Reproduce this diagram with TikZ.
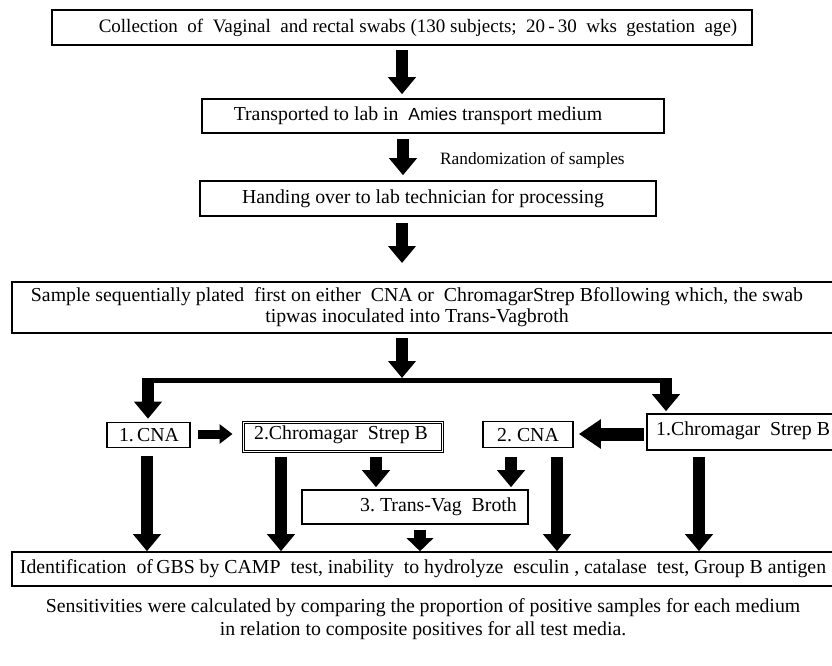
\documentclass[tikz,border=0pt]{standalone}
\usepackage{fontspec}
\setmainfont{Liberation Serif}
\usetikzlibrary{arrows.meta}
\begin{document}
\begin{tikzpicture}[x=1pt,y=-1pt,
  box/.style={draw, line width=1.6pt, inner sep=0pt},
  txt/.style={font=\fontsize{19.8}{20.5}\selectfont, inner sep=0pt, align=center},
  fat/.style={line width=12pt, -{Triangle[width=27pt,length=17pt]}},
  shortfat/.style={line width=12pt, -{Triangle[width=26pt,length=13pt]}},
  midfat/.style={line width=13pt, -{Triangle[width=28pt,length=22pt]}},
  smallfat/.style={line width=9pt, -{Triangle[width=19pt,length=13pt]}},
]
\useasboundingbox (0,0) rectangle (832,666);

% boxes and texts
\node[box, minimum width=700, minimum height=35] (b1) at (402,27.5) {};
\node[txt, font=\fontsize{19}{20}\selectfont] at (418,27.5) {Collection\ \ of\ \ Vaginal\ \ and rectal swabs (130 subjects;\ \ 20\,-\,30\ \ wks\ \ gestation\ \ age)};

\node[box, minimum width=462, minimum height=34] (b2) at (433,116) {};
\node[txt] at (418,116) {Transported to lab in\ \ {\fontspec{Liberation Sans}\fontsize{17.5}{20}\selectfont Amies} transport medium};

\node[txt, anchor=west, font=\fontsize{17.3}{20}\selectfont] (rnd) at (440,160) {Randomization of samples};

\node[box, minimum width=456, minimum height=35] (b3) at (428,198.5) {};
\node[txt] at (423,198.5) {Handing over to lab technician for processing};

\node[box, minimum width=828, minimum height=51] (b4) at (426,307.5) {};
\node[txt] at (417,307) {Sample sequentially plated\ \ first on either\ \ CNA or\ \ ChromagarStrep Bfollowing which, the swab\\tipwas inoculated into Trans-Vagbroth};

\node[box, minimum width=83, minimum height=25] (c1) at (148.5,435) {};
\node[txt] at (149,435) {1.\,CNA};

\node[box, line width=1pt, minimum width=201, minimum height=31] (c2) at (342.5,436.5) {};
\draw[line width=1pt] ([xshift=2.5pt,yshift=2.5pt]c2.south west) rectangle ([xshift=-2.5pt,yshift=-2.5pt]c2.north east);
\node[txt] at (341,434.5) {2.Chromagar\ \ Strep B};

\node[box, minimum width=90, minimum height=26] (c3) at (528,434.5) {};
\node[txt] at (528,435) {2.\ CNA};

\node[box, minimum width=193, minimum height=36] (c4) at (743.5,432) {};
\node[txt, anchor=west] at (656,431) {1.Chromagar\ \ Strep B};

\node[box, minimum width=226, minimum height=34] (tv) at (415,507) {};
\node[txt, anchor=east] at (517,507) {3.\ Trans-Vag\ \ Broth};

\node[box, minimum width=828, minimum height=34] (fin) at (426,569) {};
\node[txt] at (423,569) {Identification\ \ of\,GBS by CAMP\ \ test, inability\ \ to hydrolyze\ \ esculin\ , catalase\ \ test, Group B antigen};

\node[txt, font=\fontsize{19.8}{23}\selectfont] (foot) at (423,619.5) {Sensitivities were calculated by comparing the proportion of positive samples for each medium\\in relation to composite positives for all test media.};

% vertical chain
\draw[fat, shorten <=4pt, shorten >=4pt] (b1.south -| 402,0) -- (b2.north -| 402,0);
\draw[fat, shorten <=5pt, shorten >=5pt] (b2.south -| 403,0) -- (b3.north -| 403,0);
\draw[fat, shorten <=6pt] (b3.south -| 402,0) -- (402,263);
\coordinate (bm) at (402,378);
\draw[fat, shorten <=4pt] (b4.south -| 402,0) -- (bm);

% split bar
\coordinate (bl) at (148,380.5);
\coordinate (br) at (666,380.5);
\draw[line width=5pt] ([xshift=-6pt]bl) -- ([xshift=6pt]br);
\draw[fat, shorten >=3pt] ([yshift=2.5pt]bl) -- (c1.north -| bl);
\draw[fat, shorten >=2pt] ([yshift=2.5pt]br) -- (c4.north -| br);

% horizontal arrows
\draw[smallfat, shorten <=7pt, shorten >=9pt] (c1.east |- 0,434) -- (c2.west |- 0,434);
\draw[midfat, shorten <=2pt, shorten >=5pt] (c4.west |- 0,434) -- (c3.east |- 0,434);

% down arrows
\draw[fat, shorten <=8pt] (c1.south -| 147,0) -- (fin.north -| 147,0);
\draw[fat, shorten <=4pt] (c2.south -| 281,0) -- (fin.north -| 281,0);
\draw[fat, shorten <=4pt, shorten >=2pt] (c2.south -| 376,0) -- (tv.north -| 376,0);
\draw[fat, shorten <=9pt, shorten >=2pt] (c3.south -| 511,0) -- (tv.north -| 511,0);
\draw[fat, shorten <=9pt] (c3.south -| 557,0) -- (fin.north -| 557,0);
\draw[fat, shorten <=6pt] (c4.south -| 699,0) -- (fin.north -| 699,0);
\draw[shortfat, shorten <=5pt] (tv.south -| 420,0) -- (fin.north -| 420,0);
\end{tikzpicture}
\end{document}
